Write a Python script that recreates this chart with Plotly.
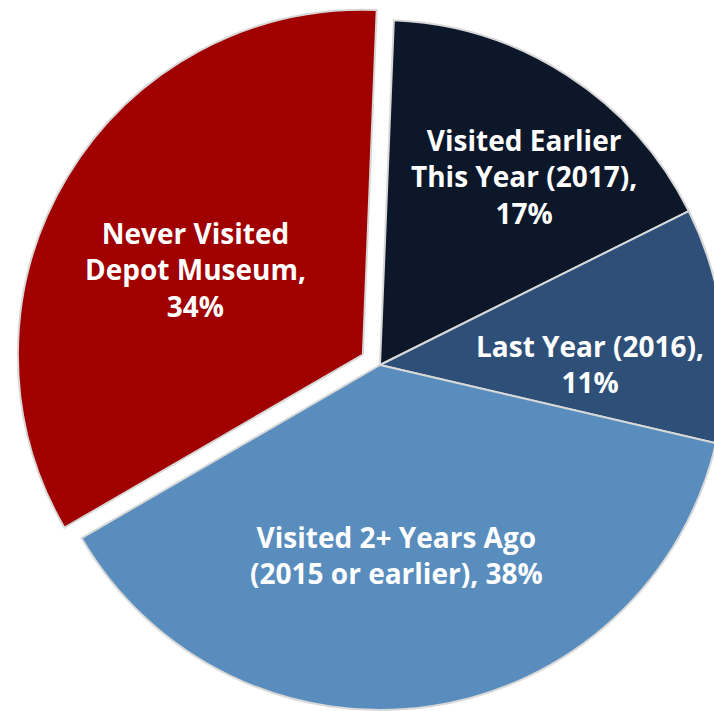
import plotly.graph_objects as go

categories = ["Visited Earlier This Year (2017)", "Last Year (2016)",
              "Visited 2+ Years Ago (2015 or earlier)", "Never Visited Depot Museum"]
values = [17, 11, 38, 34]
label_lines = [["Visited Earlier", "This Year (2017),", "{v}%"],
               ["Last Year (2016),", "{v}%"],
               ["Visited 2+ Years Ago", "(2015 or earlier), {v}%"],
               ["Never Visited", "Depot Museum,", "{v}%"]]
colors = ["#0C172A", "#2E5078", "#588DBE", "#A00000"]
pulls = [0, 0, 0, 0.058]

# label block centre positions in page pixels (styling)
label_px = [(524, 177), (590, 364), (397, 555), (195, 269)]

W, H = 760, 740
ML, MT, PW, PH = 15, 0, 730, 730

fig = go.Figure(go.Pie(
    labels=categories, values=values, sort=False, direction="clockwise",
    rotation=2.3, pull=pulls, textinfo="none",
    marker=dict(colors=colors, line=dict(color="#D8D8D8", width=2)),
    domain=dict(x=[0, 1], y=[0, 1]), showlegend=False,
))

for lines, v, (px, py) in zip(label_lines, values, label_px):
    txt = "<br>".join(l.format(v=v) for l in lines)
    fig.add_annotation(
        text=txt, x=(px - ML) / PW, y=1 - (py - MT) / PH, xref="paper", yref="paper",
        showarrow=False, xanchor="center", yanchor="middle", align="center",
        font=dict(family="Open Sans", size=28, color="white", weight="bold"),
    )

fig.update_layout(width=W, height=H, margin=dict(l=ML, r=W - ML - PW, t=MT, b=H - MT - PH),
                  paper_bgcolor="white", plot_bgcolor="white")

fig.write_html("out.html", config={"displayModeBar": False},
               post_script="document.body.style.margin='0';document.body.style.overflow='hidden';")
